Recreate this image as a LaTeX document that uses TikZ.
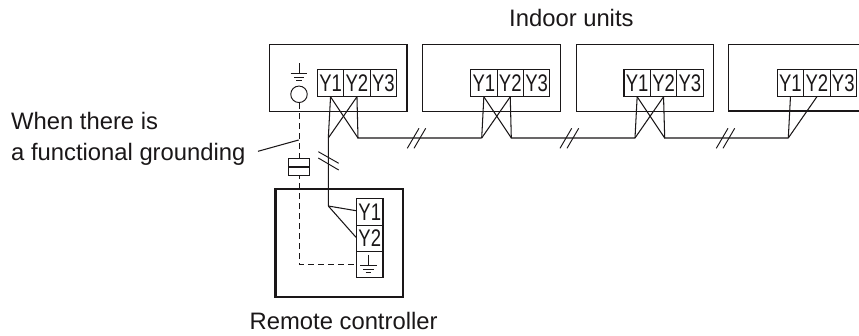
\documentclass[tikz,border=0pt]{standalone}
\usepackage{fontspec}
\setmainfont{Liberation Sans}
\newfontfamily\termfont[FakeStretch=0.77]{Liberation Sans}
\definecolor{ink}{HTML}{1A1718}
\tikzset{
  x=1pt,y=-1pt,
  unitbox/.style={draw=ink,line width=1.1pt,minimum width=137.4pt,minimum height=66.6pt,inner sep=0pt,anchor=north west},
  term/.style={draw=ink,line width=1.1pt,fill=white,minimum width=26.4pt,minimum height=26.4pt,inner sep=0pt,anchor=north west,font=\termfont\fontsize{24}{24}\selectfont,text=ink},
  wire/.style={draw=ink,line width=1.05pt},
  tick/.style={draw=ink,line width=0.95pt},
  gnd/.style={draw=ink,line width=0.95pt},
  dashwire/.style={draw=ink,line width=0.95pt,dash pattern=on 6pt off 4pt},
  label/.style={inner sep=0pt,anchor=base west,text=ink,font=\fontsize{23.8}{23.8}\selectfont},
}
\begin{document}
\begin{tikzpicture}
\fill[white] (0,0) rectangle (859,336);
\useasboundingbox (0,0) rectangle (859,336);

% Indoor units
\node[unitbox] (u1) at (269,44.4) {};
\node[unitbox] (u2) at (422.3,44.4) {};
\node[unitbox] (u3) at (575.6,44.4) {};
\coordinate (u4a) at (859,44.4);
\coordinate (u4b) at (728.9,44.4);
\coordinate (u4c) at (728.9,111);
\coordinate (u4d) at (859,111);
\draw[wire] (u4a) -- (u4b) -- (u4c) -- (u4d);

% Terminals
\foreach \u/\x in {1/316.8,2/470.1,3/623.4,4/776.7}{
  \node[term] (a\u) at (\x,69.3) {Y1};
  \node[term] (b\u) at (\x+26.4,69.3) {Y2};
  \node[term] (c\u) at (\x+52.8,69.3) {Y3};
}

% Wire corners
\coordinate (p1) at (328.3,138);
\coordinate (q1) at (358,138);
\coordinate (p2) at (481.7,138);
\coordinate (q2) at (511.3,138);
\coordinate (p3) at (635,138);
\coordinate (q3) at (664.7,138);
\coordinate (p4) at (788.3,138);
\coordinate (rc) at (328.3,206);

\draw[wire] (a1.south) -- (p1) -- (rc);
\draw[wire] (a1.south) -- (q1);
\draw[wire] (b1.south) -- (p1);
\draw[wire] (b1.south) -- (q1) -- (p2);
\draw[wire] (a2.south) -- (p2);
\draw[wire] (b2.south) -- (p2);
\draw[wire] (a2.south) -- (q2);
\draw[wire] (b2.south) -- (q2) -- (p3);
\draw[wire] (a3.south) -- (p3);
\draw[wire] (b3.south) -- (p3);
\draw[wire] (a3.south) -- (q3);
\draw[wire] (b3.south) -- (q3) -- (p4);
\draw[wire] (a4.south) -- (p4);
\draw[wire] (b4.south) -- (p4);

% Double ticks
\foreach \x in {407.3,414,560,567,716.3,723}{
  \draw[tick] (\x,148.3) -- (\x+11.7,128.3);
}
\draw[tick] (318.3,151.7) -- (338.7,163.3);
\draw[tick] (318.3,158) -- (338.7,170);

% Ground and circle in first unit
\node[draw=ink,line width=0.95pt,circle,minimum size=16.5pt,inner sep=0pt] (gc) at (299,94.3) {};
\coordinate (g0) at (299,63.3);
\coordinate (g1) at (299,73.7);
\draw[gnd] (g0) -- (g1);
\draw[gnd] (290.7,73.7) -- (307.3,73.7);
\draw[gnd] (294,77) -- (304,77);
\draw[gnd] (296,80.3) -- (302,80.3);

% Remote controller box
\node[draw=ink,line width=2.2pt,minimum width=127.4pt,minimum height=108.6pt,inner sep=0pt,anchor=north west] (rcbox) at (274.3,187.7) {};

% Remote terminals
\node[term] (ry1) at (356,198.3) {Y1};
\node[term] (ry2) at (356,224.7) {Y2};
\node[term] (rg) at (356,251) {};
\draw[wire] (rc) -- (356,210.7);
\draw[wire] (rc) -- (356,237.3);
\draw[gnd] (368.3,255) -- (368.3,265.7);
\draw[gnd] (360,265.7) -- (376.6,265.7);
\draw[gnd] (363,269.2) -- (373.6,269.2);
\draw[gnd] (365.5,272.7) -- (371,272.7);

% Dashed functional earth with fuse
\coordinate (dcorner) at (299,264);
\draw[dashwire] (gc.south) -- (dcorner) -- (rg.west |- dcorner);
\node[draw=ink,line width=1.05pt,fill=white,minimum width=21.4pt,minimum height=17.4pt,inner sep=0pt] (fuse) at (299,167) {};
\draw[wire] (fuse.west) -- (fuse.east);

% Labels and leader
\coordinate (ld0) at (258,151.3);
\coordinate (ld1) at (298.7,140);
\draw[wire] (ld0) -- (ld1);
\node[label] (t1) at (509,26.7) {Indoor units};
\node[label] (t2) at (11,130) {When there is};
\node[label] (t3) at (11,161) {a functional grounding};
\node[label] (t4) at (249.5,330) {Remote controller};
\end{tikzpicture}
\end{document}
